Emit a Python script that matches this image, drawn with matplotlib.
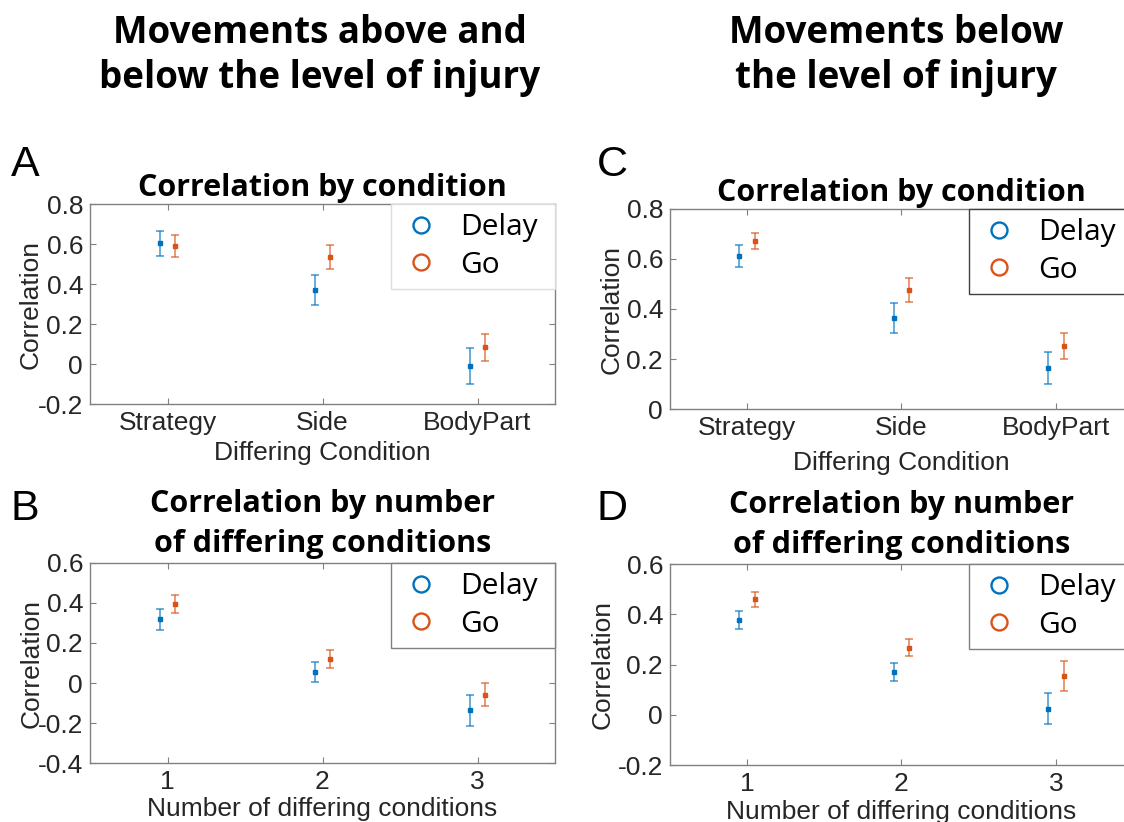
import matplotlib
matplotlib.use("Agg")
import matplotlib.pyplot as plt
from matplotlib.lines import Line2D
import numpy as np

W, H = 1124, 822
DPI = 100

# ---- data ----
cond_labels = ["Strategy", "Side", "BodyPart"]
num_labels = ["1", "2", "3"]
series_names = ["Delay", "Go"]

# Panel A: movements above and below, by condition
delay_A = [0.603, 0.372, -0.010]
delay_A_err = [0.062, 0.075, 0.090]
go_A = [0.590, 0.535, 0.083]
go_A_err = [0.054, 0.058, 0.068]

# Panel B: above and below, by number of differing conditions
delay_B = [0.318, 0.054, -0.137]
delay_B_err = [0.053, 0.050, 0.077]
go_B = [0.395, 0.120, -0.058]
go_B_err = [0.045, 0.045, 0.059]

# Panel C: below, by condition
delay_C = [0.612, 0.364, 0.163]
delay_C_err = [0.044, 0.061, 0.064]
go_C = [0.672, 0.475, 0.252]
go_C_err = [0.033, 0.049, 0.052]

# Panel D: below, by number of differing conditions
delay_D = [0.378, 0.169, 0.024]
delay_D_err = [0.036, 0.036, 0.061]
go_D = [0.459, 0.267, 0.154]
go_D_err = [0.030, 0.035, 0.060]

C_DELAY = "#0072BD"
C_GO = "#D95319"
TXT = "#262626"
SPINE = "#808080"

TICK_FONT = "Liberation Sans"
TITLE_FONT = "Open Sans"
LEG_FONT = "Open Sans"

fig = plt.figure(figsize=(W / DPI, H / DPI), dpi=DPI)


def rect(l, t, r, b):
    return [l / W, 1 - b / H, (r - l) / W, (b - t) / H]


def panel(box, delay, delay_err, go, go_err, xt_labels, ylim, yticks, title,
          xlabel, legend_edge, ylpad, xlpad, tpad, tls):
    ax = fig.add_axes(rect(*box))
    x = np.arange(1, len(delay) + 1)
    for xs, ys, es, c in ((x - 0.05, delay, delay_err, C_DELAY),
                          (x + 0.05, go, go_err, C_GO)):
        ax.errorbar(xs, ys, yerr=es, fmt="none", ecolor=c, alpha=0.75,
                    elinewidth=1.1, capsize=2.6, capthick=1.1)
        ax.plot(xs, ys, ls="none", marker="s", ms=2.2, color=c)
    ax.set_xlim(0.5, 3.5)
    ax.set_ylim(*ylim)
    ax.set_xticks(x)
    ax.set_xticklabels(xt_labels)
    ax.set_yticks(yticks)
    ax.set_yticklabels([f"{v:g}" for v in yticks])
    for s in ax.spines.values():
        s.set_color(SPINE)
        s.set_linewidth(1.0)
    ax.tick_params(direction="in", length=4, width=0.8, color=SPINE,
                   top=True, right=True, labelcolor=TXT, labelsize=19, pad=5)
    for lab in ax.get_xticklabels() + ax.get_yticklabels():
        lab.set_family(TICK_FONT)
    ax.set_ylabel("Correlation", fontsize=19, family=TICK_FONT, color=TXT,
                  labelpad=ylpad)
    ax.set_xlabel(xlabel, fontsize=19, family=TICK_FONT, color=TXT,
                  labelpad=xlpad)
    ax.set_title(title, fontsize=22, family=TITLE_FONT, fontweight="bold",
                 color="black", pad=tpad, linespacing=tls)
    handles = [Line2D([], [], ls="none", marker="o", ms=11.5, mfc="none",
                      mec=c, mew=1.7) for c in (C_DELAY, C_GO)]
    wax = 164 / (box[2] - box[0])
    leg = ax.legend(handles, series_names, loc="upper left",
                    bbox_to_anchor=(1 - wax, 0, wax, 1), mode="expand",
                    borderaxespad=0, fancybox=False,
                    prop={"family": LEG_FONT, "size": 21.5}, handlelength=1.4,
                    handletextpad=0.62, labelspacing=0.3, borderpad=0.3,
                    framealpha=1, edgecolor=legend_edge)
    leg.get_frame().set_linewidth(1.0)
    return ax


panel((90, 204, 555, 404), delay_A, delay_A_err, go_A, go_A_err, cond_labels,
      (-0.2, 0.8), [-0.2, 0, 0.2, 0.4, 0.6, 0.8], "Correlation by condition",
      "Differing Condition", "#dcdcdc", -3.5, 4, 6, 1.2)
panel((90, 563, 555, 763), delay_B, delay_B_err, go_B, go_B_err, num_labels,
      (-0.4, 0.6), [-0.4, -0.2, 0, 0.2, 0.4, 0.6],
      "Correlation by number\nof differing conditions",
      "Number of differing conditions", "#808080", -4.5, 2, 8, 1.42)
panel((670, 209, 1133, 409), delay_C, delay_C_err, go_C, go_C_err, cond_labels,
      (0, 0.8), [0, 0.2, 0.4, 0.6, 0.8], "Correlation by condition",
      "Differing Condition", "#404040", 2, 8, 6, 1.2)
panel((670, 564, 1133, 765), delay_D, delay_D_err, go_D, go_D_err, num_labels,
      (-0.2, 0.6), [-0.2, 0, 0.2, 0.4, 0.6],
      "Correlation by number\nof differing conditions",
      "Number of differing conditions", "#808080", 2.5, 3, 8, 1.42)

# column headings
for xc, lines in ((320, ["Movements above and", "below the level of injury"]),
                  (896, ["Movements below", "the level of injury"])):
    for i, s in enumerate(lines):
        fig.text(xc / W, 1 - (43 + 45 * i) / H, s, ha="center", va="baseline",
                 fontsize=26.5, family=TITLE_FONT, fontweight="bold",
                 color="black")

# panel letters
for lx, ly, s in ((11, 176, "A"), (11, 520, "B"), (597, 176, "C"),
                  (597, 520, "D")):
    fig.text(lx / W, 1 - ly / H, s, ha="left", va="baseline", fontsize=31,
             family=TICK_FONT, color="black")

fig.savefig("out.png", dpi=DPI)
